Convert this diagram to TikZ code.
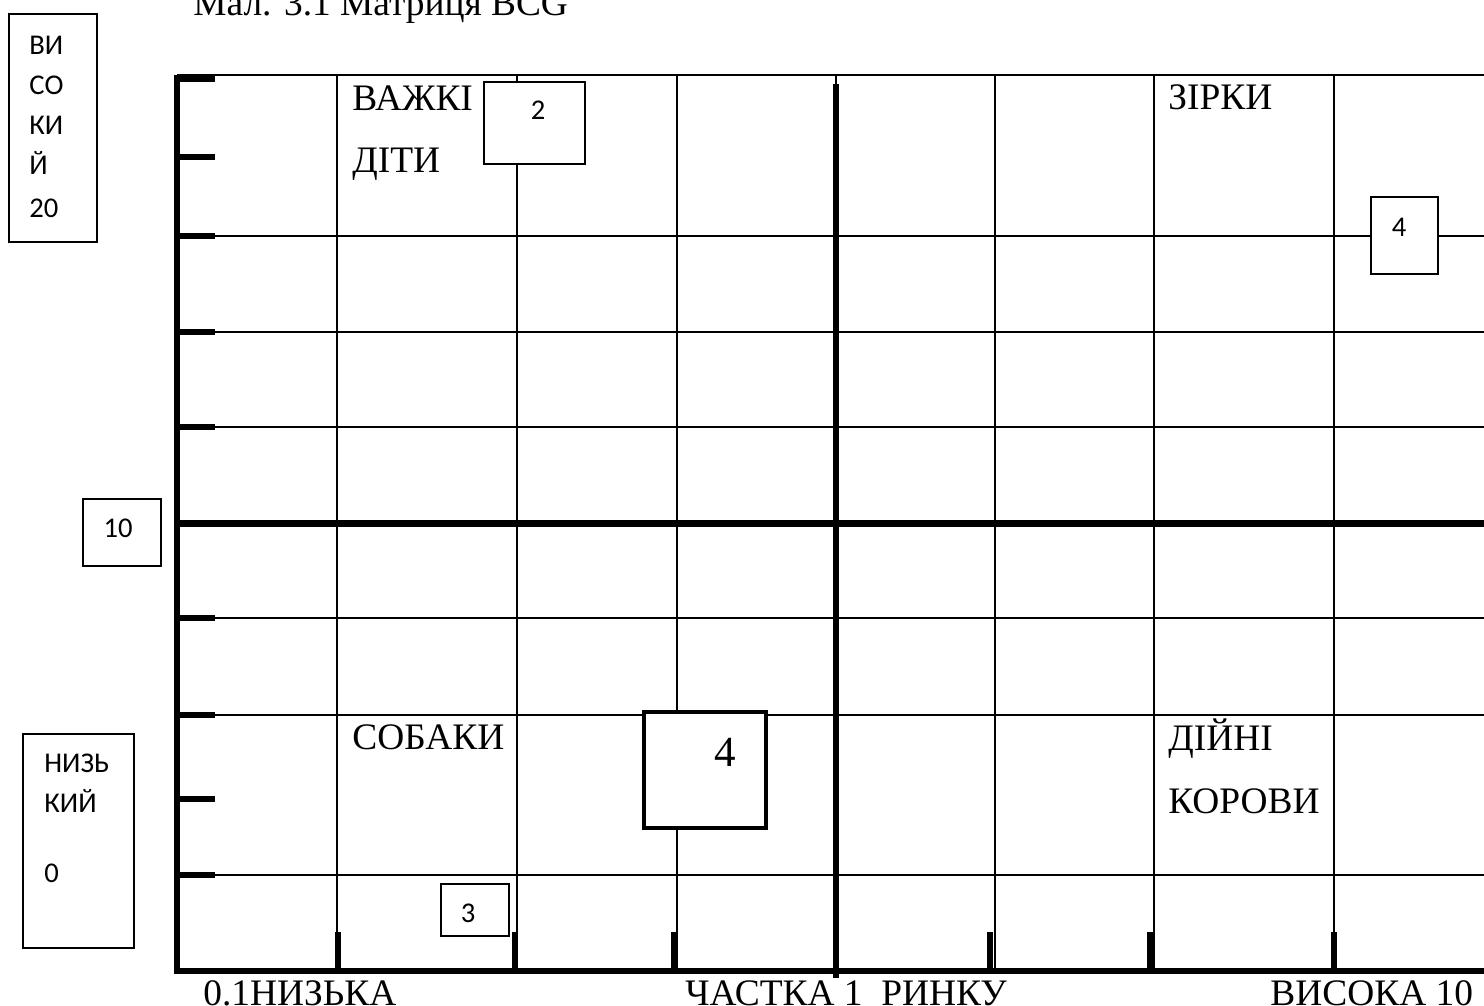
\documentclass[tikz,border=0pt]{standalone}
\usepackage{fontspec}
\setmainfont{Liberation Serif}
\newfontfamily\calibri{Carlito}
\tikzset{
  gridline/.style={line width=1.3pt},
  axisline/.style={line width=3pt},
  midline/.style={line width=3.5pt},
  tickmark/.style={line width=2.6pt},
  valbox/.style={draw,line width=0.6pt,fill=white},
  bigbox/.style={draw,line width=2.2pt,fill=white},
  quadtext/.style={anchor=base west,inner sep=0pt,font=\fontsize{18.7}{18.7}\selectfont},
  valtext/.style={inner sep=0pt,font=\calibri\fontsize{14.3}{14.3}\selectfont}
}
\begin{document}
\begin{tikzpicture}[x=0.5pt,y=-0.5pt]
  \useasboundingbox (0,0) rectangle (1484,1006);
  % grid of the matrix (one unit is one pixel of the page)
  \foreach \y in {75,236,332,427,618,715,875}
    \draw[gridline] (177,\y) -- (1484,\y);
  \foreach \x in {337,517,677,836,995,1154,1334}
    \draw[gridline] (\x,75) -- (\x,970);
  \draw[axisline] (177,75) -- (177,971) -- (1484,971);
  \draw[midline] (177,523) -- (1484,523);
  \draw[axisline] (836,84) -- (836,978);
  \foreach \y in {79,157,236,332,427,618,715,799,875}
    \draw[tickmark] (177,\y) -- (215,\y);
  \foreach \x in {338,515,674,990,1150,1334}
    \draw[tickmark] (\x,932) -- (\x,971);
  % value boxes
  \draw[valbox] (9,14) rectangle (97,242);
  \draw[valbox] (83,499) rectangle (161,566);
  \draw[valbox] (23,734) rectangle (134,948);
  \draw[valbox] (484,82) rectangle (585,164);
  \draw[valbox] (1371,197) rectangle (1438,274);
  \draw[valbox] (441,884) rectangle (509,936);
  \draw[bigbox] (644,712) rectangle (766,828);
  \foreach \t/\y [count=\i] in {ВИ/55,СО/95,КИ/135,Й/175,20/217}
    \node[valtext,anchor=base west] (hi\i) at (29,\y) {\t};
  \node[valtext] (ten) at (118,528) {10};
  \node[valtext,anchor=base west] (lo1) at (44,772) {НИЗЬ};
  \node[valtext,anchor=base west] (lo2) at (44,812) {КИЙ};
  \node[valtext,anchor=base west] (lo3) at (44,882) {0};
  \node[valtext] (v2) at (538,110) {2};
  \node[valtext] (v4a) at (1399,227) {4};
  \node[valtext] (v3) at (468,913) {3};
  \node[inner sep=0pt,font=\fontsize{21.5}{21.5}\selectfont] (v4b) at (725,752) {4};
  % quadrant names and axis captions
  \node[quadtext] (title) at (193,16) {Мал. 3.1 Матриця BCG};
  \node[quadtext] (hard) at (352,111) {ВАЖКІ};
  \node[quadtext] (hardb) at (352,172) {ДІТИ};
  \node[quadtext] (stars) at (1168,110) {ЗІРКИ};
  \node[quadtext] (dogs) at (352,749) {СОБАКИ};
  \node[quadtext] (cows) at (1168,750) {ДІЙНІ};
  \node[quadtext] (cowsb) at (1168,813) {КОРОВИ};
  \node[quadtext] (lowx) at (203,1005) {0.1НИЗЬКА};
  \node[quadtext] (midx) at (685,1005) {ЧАСТКА 1\ \ РИНКУ};
  \node[quadtext] (highx) at (1270,1005) {ВИСОКА 10};
\end{tikzpicture}
\end{document}
